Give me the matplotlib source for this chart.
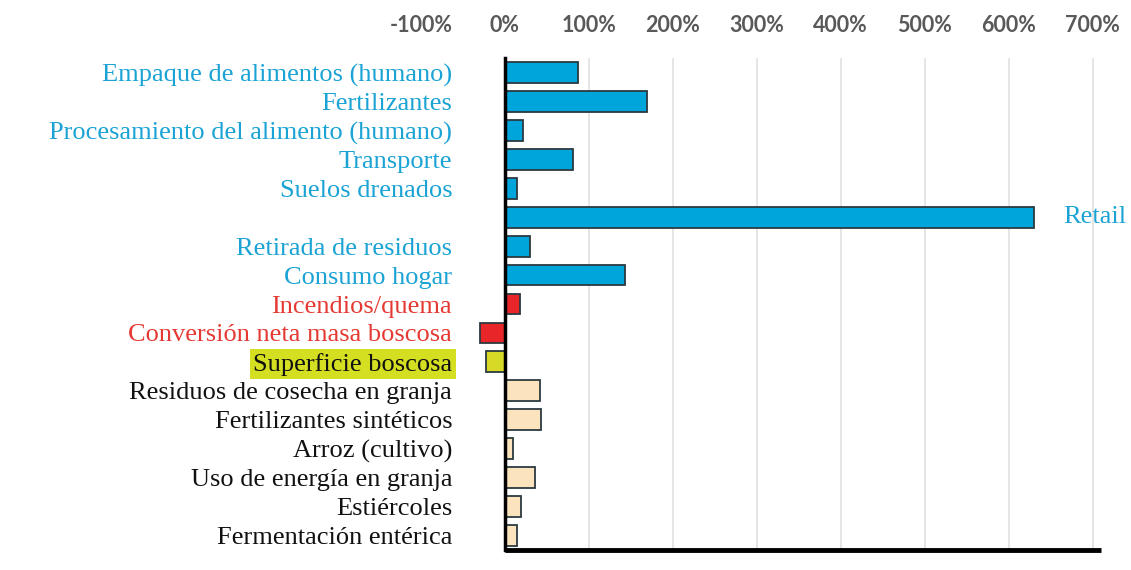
import numpy as np
import matplotlib.pyplot as plt

# categories from top to bottom, '' is the row labelled at the right ("Retail")
categories = ['Empaque de alimentos (humano)', 'Fertilizantes',
              'Procesamiento del alimento (humano)', 'Transporte',
              'Suelos drenados', '', 'Retirada de residuos', 'Consumo hogar',
              'Incendios/quema', 'Conversión neta masa boscosa',
              'Superficie boscosa', 'Residuos de cosecha en granja',
              'Fertilizantes sintéticos', 'Arroz (cultivo)',
              'Uso de energía en granja', 'Estiércoles', 'Fermentación entérica']
values = [87, 169, 22, 81, 14, 630, 30, 143, 18, -30, -23, 42, 43, 10, 36, 19, 14]
groups = ['blue'] * 8 + ['red'] * 2 + ['yellow'] + ['beige'] * 6
ticks = [-100, 0, 100, 200, 300, 400, 500, 600, 700]
tick_labels = ['-100%', '0%', '100%', '200%', '300%', '400%', '500%', '600%', '700%']
right_label = 'Retail'

bar_col = {'blue': '#00a5dc', 'red': '#e8262a', 'yellow': '#d6d926', 'beige': '#fbe3bd'}
txt_col = {'blue': '#1aa3d4', 'red': '#e53a33', 'yellow': '#111111', 'beige': '#111111'}

fig = plt.figure(figsize=(11.31, 5.70), dpi=100)
ax = fig.add_axes([0.3722, 0.0351, 0.6013, 0.8631])

y = np.arange(len(categories))
ax.barh(y, values, height=0.72, color=[bar_col[g] for g in groups],
        edgecolor='#2b3a40', linewidth=1.3, zorder=3)

ax.set_xlim(-100, 710)
ax.set_ylim(len(categories) - 0.5, -0.5)

ax.set_xticks(ticks)
ax.set_xticklabels(tick_labels)
ax.xaxis.tick_top()
ax.tick_params(axis='x', length=0, pad=16, labelsize=15.5, labelcolor='#595959')
for t in ax.get_xticklabels():
    t.set_fontfamily('Lato')
    t.set_fontweight('bold')

for xv in ticks[2:]:
    ax.axvline(xv, color='#e0e0e0', lw=1.2, zorder=1)

ax.spines['left'].set_position(('data', 0))
ax.spines['left'].set_linewidth(2.5)
ax.spines['left'].set_zorder(4)
for s in ['top', 'right', 'bottom']:
    ax.spines[s].set_visible(False)
ax.plot([0, 710], [len(categories) - 0.5] * 2, color='black', lw=3.5,
        solid_capstyle='butt', clip_on=False, zorder=5)

ax.set_yticks(y)
ax.set_yticklabels(categories)
ax.tick_params(axis='y', length=0, pad=38)
for t, g in zip(ax.get_yticklabels(), groups):
    t.set_fontfamily('Liberation Serif')
    t.set_fontsize(19)
    t.set_color(txt_col[g])
    if g == 'yellow':
        t.set_bbox(dict(facecolor='#d4df22', edgecolor='none', pad=2.5))

ri = categories.index('')
ax.text(values[ri] + 35, ri, right_label, va='center', ha='left',
        fontfamily='Liberation Serif', fontsize=19, color=txt_col['blue'])

fig.savefig('out.png', dpi=100, facecolor='white')
